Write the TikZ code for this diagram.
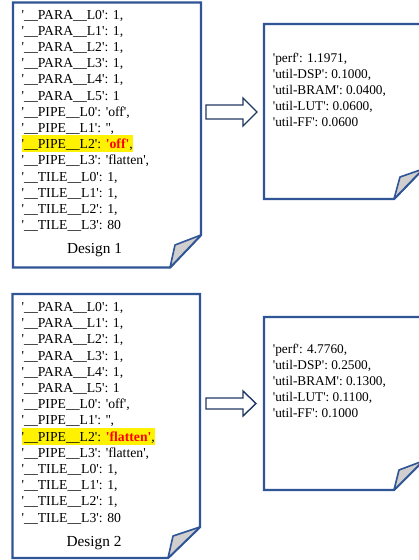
\documentclass[tikz,border=0pt]{standalone}
\usepackage{fontspec}
\setmainfont{Liberation Serif}[Ligatures=TeXOff]
\usetikzlibrary{positioning}
\definecolor{paperblue}{RGB}{47,85,151}
\definecolor{arrownavy}{RGB}{32,56,100}
\definecolor{foldgray}{RGB}{208,206,206}
\newcommand{\hlline}[1]{{\setlength{\fboxsep}{0pt}\colorbox{yellow}{\rule[-3.5pt]{0pt}{17pt}'\_\_PIPE\_\_L2': \textcolor{red}{\bfseries '#1'},}}}
\newcommand{\paramlist}[1]{'\_\_PARA\_\_L0': 1,\\'\_\_PARA\_\_L1': 1,\\'\_\_PARA\_\_L2': 1,\\'\_\_PARA\_\_L3': 1,\\'\_\_PARA\_\_L4': 1,\\'\_\_PARA\_\_L5': 1\\'\_\_PIPE\_\_L0': 'off',\\'\_\_PIPE\_\_L1': '',\\\hlline{#1}\\'\_\_PIPE\_\_L3': 'flatten',\\'\_\_TILE\_\_L0': 1,\\'\_\_TILE\_\_L1': 1,\\'\_\_TILE\_\_L2': 1,\\'\_\_TILE\_\_L3': 80}
\begin{document}
\begin{tikzpicture}[x=1pt, y=-1pt,
    paper/.style={draw=paperblue, line width=2.4pt, fill=white},
    fold/.style={draw=paperblue, line width=1.6pt, fill=foldgray, line join=round},
    params/.style={anchor=north west, align=left, inner sep=0pt, font=\fontsize{13.7}{16.2}\selectfont},
    metrics/.style={anchor=north west, align=left, inner sep=0pt, font=\fontsize{13.3}{16}\selectfont},
    caption/.style={anchor=base, inner sep=0pt, font=\fontsize{15.3}{18}\selectfont},
    bigarrow/.style={draw=arrownavy, line width=1.4pt, fill=white}]
  \clip (0,0) rectangle (419,560);
  % design 1
  \draw[paper] (13,2.5) -- (201,2.5) -- (201,235) -- (170,267.5) -- (13,267.5) -- cycle;
  \draw[fold] (201,235) -- (175,245) -- (170,267.5) -- cycle;
  \node[params] (params1) at (21.5,9.7) {\paramlist{off}};
  \node[caption] (design1) at (94.5,253.3) {Design 1};
  \draw[paper] (264,24) -- (423,24) -- (423,169) -- (394,199) -- (264,199) -- cycle;
  \draw[fold] (423,169) -- (400,177) -- (394,199) -- cycle;
  \node[metrics] (metrics1) at (272.7,53.4) {'perf': 1.1971,\\'util-DSP': 0.1000,\\'util-BRAM': 0.0400,\\'util-LUT': 0.0600,\\'util-FF': 0.0600};
  \draw[bigarrow] (206,105) -- (243,105) -- (243,98) -- (257,112) -- (243,126) -- (243,119) -- (206,119) -- cycle;
  % design 2
  \draw[paper] (12.5,294) -- (200,294) -- (200,527) -- (168,558) -- (12.5,558) -- cycle;
  \draw[fold] (200,527) -- (173,536) -- (168,558) -- cycle;
  \node[params] (params2) at (21.5,302.2) {\paramlist{flatten}};
  \node[caption] (design2) at (94,546.7) {Design 2};
  \draw[paper] (264,317) -- (423,317) -- (423,461) -- (394,490) -- (264,490) -- cycle;
  \draw[fold] (423,461) -- (399,470) -- (394,490) -- cycle;
  \node[metrics] (metrics2) at (272.7,343.9) {'perf': 4.7760,\\'util-DSP': 0.2500,\\'util-BRAM': 0.1300,\\'util-LUT': 0.1100,\\'util-FF': 0.1000};
  \draw[bigarrow] (206,398) -- (243,398) -- (243,391) -- (256,403.5) -- (243,416) -- (243,409) -- (206,409) -- cycle;
\end{tikzpicture}
\end{document}
